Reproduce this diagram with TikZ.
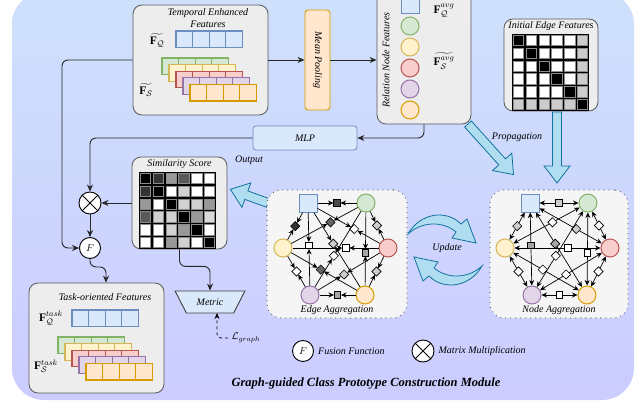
\documentclass[tikz,border=0pt]{standalone}
\usepackage{fontspec}
\setmainfont{Liberation Serif}
\usepackage{amsmath}
\usetikzlibrary{arrows.meta, calc, positioning, shapes.geometric}

\definecolor{bgtop}{RGB}{206,225,252}
\definecolor{bgbot}{RGB}{204,204,255}
\definecolor{fillq}{HTML}{DAE8FC}\definecolor{drawq}{HTML}{6C8EBF}
\definecolor{fillg}{HTML}{D5E8D4}\definecolor{drawg}{HTML}{82B366}
\definecolor{filly}{HTML}{FFF2CC}\definecolor{drawy}{HTML}{D6B656}
\definecolor{fillr}{HTML}{F8CECC}\definecolor{drawr}{HTML}{B85450}
\definecolor{fillp}{HTML}{E1D5E7}\definecolor{drawp}{HTML}{9673A6}
\definecolor{fillo}{HTML}{FFE6CC}\definecolor{drawo}{HTML}{D79B00}
\definecolor{fillba}{HTML}{B1DDF0}\definecolor{drawba}{HTML}{10739E}

\tikzset{
  panel/.style={draw=black!65, fill=black!7, line width=0.8pt, rounded corners=9pt},
  gpanel/.style={draw=black!60, fill=black!4, line width=1.3pt, dash pattern=on 0.01pt off 5pt, line cap=round, rounded corners=14pt},
  lbl/.style={font=\itshape\fontsize{10}{11.5}\selectfont, inner sep=1pt},
  mlbl/.style={font=\fontsize{11.5}{13}\selectfont, inner sep=1pt},
  conn/.style={line width=0.9pt, draw=black!85, -{Stealth[length=7pt, width=6pt]}, rounded corners=6pt},
  bigarrow/.style={fill=fillba, draw=drawba, line width=0.8pt, line join=miter},
  qnode/.style={draw=drawq, fill=fillq, line width=1pt, minimum size=18pt, inner sep=0pt},
  cnode/.style={circle, line width=1pt, minimum size=18pt, inner sep=0pt},
  esq/.style={draw=black, line width=0.6pt, minimum size=6.5pt, inner sep=0pt},
  gedge/.style={line width=0.7pt, draw=black},
  gtip/.style={-{Stealth[length=5.5pt, width=5pt]}},
  fusion/.style={circle, draw, line width=0.9pt, fill=white, minimum size=21pt, inner sep=0pt},
  optimes/.style={circle, draw, line width=0.9pt, fill=white, minimum size=22pt, inner sep=0pt,
    path picture={\draw[line width=0.9pt] (path picture bounding box.north west) -- (path picture bounding box.south east)
      (path picture bounding box.north east) -- (path picture bounding box.south west);}},
}

\newcommand{\cellrow}[4]{%
  \foreach \i in {0,...,3}
    \draw[fill=#3, draw=#4, line width=1.2pt] ({#1+16.6*\i},{#2}) rectangle ++(16.6,16.6);
}
\newcommand{\cellstack}[2]{%
  \cellrow{#1}{#2}{fillg}{drawg}
  \cellrow{#1+7}{#2+6.6}{filly}{drawy}
  \cellrow{#1+14}{#2+13.2}{fillr}{drawr}
  \cellrow{#1+21}{#2+19.8}{fillp}{drawp}
  \cellrow{#1+28}{#2+26.4}{fillo}{drawo}
}
\newcommand{\grayGrid}[3]{%
  \fill[black] (#1,#2) rectangle ++(76.8,76.8);
  \foreach \row [count=\r from 0] in {#3} {
    \foreach \v [count=\k from 0] in \row
      \draw[fill=black!\v, draw=black!45, line width=0.5pt] ({#1+12.8*\k+1.2},{#2+12.8*\r+1.2}) rectangle ++(10.4,10.4);
  }
}
\newcommand{\blockarrow}[3]{%
  \begin{scope}[shift={#1}, rotate=#2]
    \draw[bigarrow] (0,-4.5) -- (#3-17,-4.5) -- (#3-17,-13) -- (#3,0) -- (#3-17,13) -- (#3-17,4.5) -- (0,4.5) -- cycle;
  \end{scope}}
\newcommand{\graphnodes}[2]{%
  \node[qnode] (#1-q) at (#2+308,203) {};
  \node[cnode, draw=drawg, fill=fillg] (#1-g) at (#2+366,203) {};
  \node[cnode, draw=drawy, fill=filly] (#1-y) at (#2+283,248) {};
  \node[cnode, draw=drawr, fill=fillr] (#1-r) at (#2+388,248) {};
  \node[cnode, draw=drawp, fill=fillp] (#1-p) at (#2+310,295) {};
  \node[cnode, draw=drawo, fill=fillo] (#1-o) at (#2+365,295) {};
}
% edge: from/to/pos/colour in edge aggregation/colour in node aggregation/rotation
\def\edgelist{q/g/0.5/black!70/black!20/0, q/y/0.5/black!80/black!20/45, g/r/0.5/black!20/white/45,
  y/p/0.5/white/white/45, r/o/0.5/black!20/white/45, p/o/0.5/black!35/white/0,
  q/p/0.45/white/black!35/0, g/o/0.55/black!35/white/0, y/r/0.62/white/white/0,
  q/r/0.59/white/black!20/45, q/o/0.42/black!20/black!35/45, g/y/0.41/black!60/white/45,
  g/p/0.59/white/white/45, y/o/0.45/black!60/white/45, p/r/0.42/black!20/white/45}

\begin{document}
\begin{tikzpicture}[x=1pt, y=-1pt]
  \useasboundingbox (0,0) rectangle (644,406);
  \clip (0,0) rectangle (644,406);
  \shade[top color=bgtop, bottom color=bgbot, rounded corners=32pt] (12,-8) rectangle (634,400);

  % temporal enhanced features
  \node[panel, minimum width=135pt, minimum height=110pt] (temp) at (200.5,60) {};
  \node[lbl, align=center] (tempT) at (208,18) {Temporal Enhanced\\Features};
  \node[mlbl] (fq) at (157,40) {$\widetilde{\mathbf{F}_{\mathcal{Q}}}$};
  \cellrow{176}{31}{fillq}{drawq}
  \node[mlbl] (fs) at (146,90) {$\widetilde{\mathbf{F}_{\mathcal{S}}}$};
  \cellstack{162}{58}

  \node[draw=drawo, fill=fillo, line width=0.9pt, rounded corners=3pt, minimum width=100pt, minimum height=25pt, rotate=-90, lbl] (mp) at (317.5,60) {Mean Pooling};

  % relation node features
  \node[panel, minimum width=94pt, minimum height=136pt] (rel) at (424,56) {};
  \node[lbl, rotate=90] (relT) at (386,60) {Relation Node Features};
  \node[qnode] (rq) at (410,5) {};
  \foreach \k/\y in {g/26, y/47, r/68, p/89, o/110}
    \node[cnode, draw=draw\k, fill=fill\k] (r\k) at (410,\y) {};
  \node[mlbl] (fqavg) at (444,11) {$\mathbf{F}_{\mathcal{Q}}^{avg}$};
  \node[mlbl] (fsavg) at (444,61) {$\widetilde{\mathbf{F}_{\mathcal{S}}^{avg}}$};

  % initial edge features
  \node[panel, minimum width=94pt, minimum height=92pt] (init) at (551,65) {};
  \node[lbl] (initT) at (551,26) {Initial Edge Features};
  \grayGrid{512}{34}{{100,0,0,0,0,20},{0,100,0,0,0,20},{0,0,100,0,0,20},{0,0,0,100,0,20},{0,0,0,0,100,20},{20,20,20,20,20,100}}

  % similarity score
  \node[panel, minimum width=95pt, minimum height=92pt] (sim) at (179.5,203) {};
  \node[lbl] (simT) at (179.5,164) {Similarity Score};
  \grayGrid{139}{172}{{100,80,40,65,0,0},{80,100,0,18,0,0},{40,0,100,18,18,40},{65,18,18,100,40,15},{0,0,18,40,100,0},{0,0,40,18,0,100}}

  \node[draw=drawq, fill=fillq, line width=0.8pt, rounded corners=3pt, minimum width=104pt, minimum height=24pt, lbl] (mlp) at (305,138) {MLP};
  \node[lbl] (outT) at (249,160) {Output};

  \node[optimes] (mul) at (90,203) {};
  \node[fusion] (fuse) at (90,248) {$F$};

  % task-oriented features
  \node[panel, minimum width=135pt, minimum height=110pt] (task) at (96.5,338) {};
  \node[lbl] (taskT) at (105,297) {Task-oriented Features};
  \node[mlbl] (fqt) at (51,318) {$\mathbf{F}_{\mathcal{Q}}^{task}$};
  \cellrow{72}{310}{fillq}{drawq}
  \node[mlbl] (fst) at (46,366) {$\mathbf{F}_{\mathcal{S}}^{task}$};
  \cellstack{58}{337}

  \node[trapezium, trapezium left angle=52, trapezium right angle=52, shape border rotate=180, trapezium stretches=true,
    draw=black!75, fill=fillq, line width=0.9pt, minimum width=70pt, minimum height=22pt, lbl] (metric) at (210,302) {Metric};
  \node (lg) at (246,338) {$\mathcal{L}_{graph}$};

  % connectors
  \coordinate (bendL) at (62,60);
  \draw[conn] (temp.east) -- (mp);
  \draw[conn] (mp) -- (mp -| rel.west);
  \draw[conn] (rel.south) |- (mlp.east);
  \draw[conn] (mlp.west) -| (mul);
  \draw[conn] (sim.west) -- (mul);
  \draw[conn] (mul) -- (fuse);
  \draw[conn] (temp.west) -- (bendL) |- (fuse);
  \draw[conn] (fuse.south) |- ++(16,8) -- ([xshift=9.5pt]task.north);
  \draw[conn] (sim.south) -- ++(0,17) -| (metric);
  \draw[line width=0.7pt, dashed, -{Stealth[length=6pt, width=5pt]}, rounded corners=4pt] (lg.west) -| ([xshift=7pt, yshift=-11pt]metric.center);

  % big arrows
  \blockarrow{(468,124)}{-48}{68}
  \blockarrow{(557,112)}{-90}{71}
  \blockarrow{(268,203)}{160}{40}
  \node[lbl] (propT) at (517,137) {Propagation};

  % graph panels
  \node[gpanel, minimum width=140pt, minimum height=128pt] (eabox) at (337,254) {};
  \node[gpanel, minimum width=138pt, minimum height=128pt] (nabox) at (559,254) {};
  \node[lbl] (eaT) at (337,310) {Edge Aggregation};
  \node[lbl] (naT) at (559,310) {Node Aggregation};

  \graphnodes{ea}{0}
  \graphnodes{na}{222}
  \foreach \a/\b/\p/\ce/\cn/\r in \edgelist {
    \path (ea-\a) -- node[esq, pos=\p, fill=\ce, rotate=\r] (ea-\a\b) {} (ea-\b);
    \draw[gedge, gtip] (ea-\a) -- (ea-\a\b);
    \draw[gedge, gtip] (ea-\b) -- (ea-\a\b);
    \draw[gedge, {Stealth[length=5.5pt, width=5pt]}-{Stealth[length=5.5pt, width=5pt]}] (na-\a) -- node[esq, pos=\p, fill=\cn, rotate=\r] (na-\a\b) {} (na-\b);
  }

  % update arrows
  \draw[bigarrow] (408,234) .. controls (420,213) and (446,209) .. (461,224) -- (467,219) -- (476,243) -- (452,238)
    -- (456,232) .. controls (443,221) and (422,221) .. (408,234) -- cycle;
  \begin{scope}[rotate around={180:(445,250)}]
    \draw[bigarrow] (408,234) .. controls (420,213) and (446,209) .. (461,224) -- (467,219) -- (476,243) -- (452,238)
      -- (456,232) .. controls (443,221) and (422,221) .. (408,234) -- cycle;
  \end{scope}
  \node[lbl] (updT) at (447,248) {Update};

  % legend
  \node[fusion] (legF) at (303,351) {$F$};
  \node[lbl, right=3pt of legF] (legFT) {Fusion Function};
  \node[optimes] (legM) at (423,351) {};
  \node[lbl, right=3pt of legM] (legMT) {Matrix Multiplication};

  \node[font=\bfseries\itshape\fontsize{12.5}{14}\selectfont] (title) at (366,384) {Graph-guided Class Prototype Construction Module};
\end{tikzpicture}
\end{document}
